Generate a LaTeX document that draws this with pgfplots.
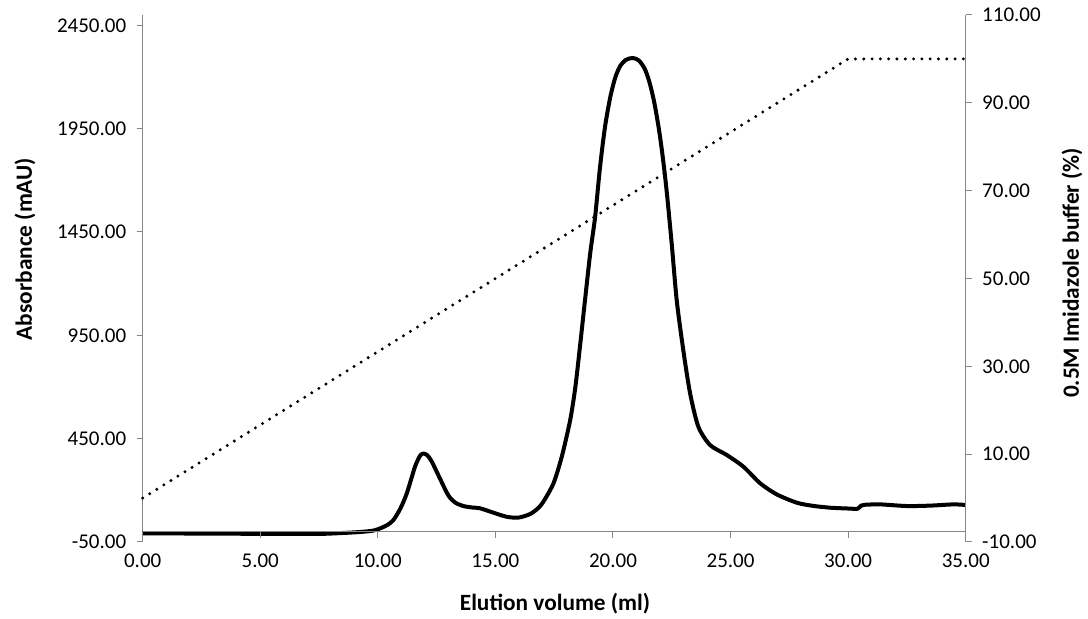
\documentclass[border=0pt]{standalone}
\usepackage{fontspec}
\setmainfont{Carlito}
\usepackage{pgfplots}
\pgfplotsset{compat=1.18}
\definecolor{axgray}{RGB}{134,134,134}
\pgfplotsset{
  common/.style={
    scale only axis, width=823pt,
    anchor=south west,
    axis line style={color=axgray, line width=1pt},
    tick style={color=axgray, line width=1pt},
    major tick length=6pt, tick align=outside,
    tick label style={font=\fontsize{21}{25}\selectfont, text=black},
    /pgf/number format/fixed, /pgf/number format/fixed zerofill,
    /pgf/number format/precision=2, /pgf/number format/1000 sep={},
    /pgf/number format/assume math mode=true,
    clip=false,
  }
}
\pgfplotstableread{
x y
0 -8
2 -9
4 -10
6 -11
7.5 -11
8.4 -7
9.2 -2
9.8 5
10.1 16
10.4 32
10.66 56
10.95 110
11.23 185
11.58 314
11.8 368
11.94 378
12.1 370
12.29 340
12.65 255
13.0 175
13.3 140
13.64 124
14.0 117
14.35 113
14.91 92
15.48 72
15.98 68
16.47 85
16.8 112
17.04 145
17.47 234
17.82 362
18.18 540
18.4 700
18.6 900
18.81 1120
19.03 1346
19.24 1523
19.45 1765
19.66 1958
19.88 2100
20.09 2195
20.3 2252
20.55 2283
20.84 2292
21.1 2280
21.35 2240
21.55 2175
21.75 2080
21.95 1950
22.12 1810
22.29 1640
22.5 1390
22.71 1120
22.99 878
23.28 669
23.63 508
24.13 419
24.84 371
25.55 314
26.26 234
26.97 180
27.82 140
28.5 125
29.23 116
30.0 112
30.4 111
30.55 126
30.7 130
31.36 132
32.5 124
33.49 126
34.48 132
35 129
}\absorb
\pgfplotstableread{
x y
0 0
30 100
35 100
}\grad
\begin{document}
\begin{tikzpicture}
\useasboundingbox (0,0) rectangle (1088pt,619pt);
% left axis with absorbance
\begin{axis}[common,
  at={(142.7pt,77pt)}, height=527pt,
  xmin=0, xmax=35, ymin=-50, ymax=2500,
  axis y line*=left, axis x line=none,
  ytick={-50,450,950,1450,1950,2450},
  y tick label style={xshift=-7pt},
]
\addplot[black, line width=4pt, smooth, tension=0.45, line join=round] table[x=x,y=y] {\absorb};
\end{axis}
% right axis with gradient
\begin{axis}[common,
  at={(142.7pt,77pt)}, height=527pt,
  xmin=0, xmax=35, ymin=-10, ymax=110,
  axis y line*=right, axis x line=none,
  ytick={-10,10,30,50,70,90,110},
  y tick label style={xshift=7pt},
]
\addplot[black, line width=3.3pt, line cap=round, dash pattern=on 0pt off 8.3pt] table[x=x,y=y] {\grad};
\end{axis}
% x axis at y = 0
\begin{axis}[common,
  at={(142.7pt,87.3pt)}, height=10pt,
  xmin=0, xmax=35, ymin=0, ymax=1,
  axis x line*=bottom, axis y line=none,
  xtick={0,5,...,35},
  x tick label style={yshift=-13pt},
]
\end{axis}
\node[rotate=90, font=\fontsize{23.3}{28}\selectfont\bfseries] at (25pt,370pt) {Absorbance (mAU)};
\node[rotate=90, font=\fontsize{23.3}{28}\selectfont\bfseries] at (1072pt,346pt) {0.5M Imidazole buffer (\%)};
\node[font=\fontsize{23.3}{28}\selectfont\bfseries] at (555pt,15pt) {Elution volume (ml)};
\end{tikzpicture}
\end{document}
